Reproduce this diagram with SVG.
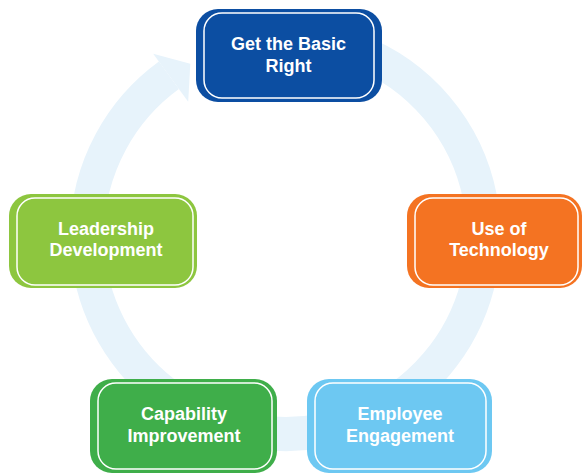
<svg xmlns="http://www.w3.org/2000/svg" width="582" height="473" viewBox="0 0 582 473">
<style>
.ring{fill:none;stroke:#e7f3fb;stroke-width:34;stroke-linecap:butt}
.head{fill:#e7f3fb}
.inner{fill:none;stroke:#ffffff;stroke-width:1.5}
.lbl{font-family:"Liberation Sans",Arial,sans-serif;font-weight:bold;font-size:18px;fill:#ffffff;text-anchor:middle}
</style>
<rect width="582" height="473" fill="#ffffff"/>
<g id="connectors">
<path class="ring" d="M 268.2 38.2 A 198.3 198.3 0 1 1 168.9 75.3"/>
<polygon class="head" points="153.2,53.7 190.3,63.8 188.2,101.8"/>
</g>
<g id="node-basic">
<rect x="196" y="9" width="186" height="93" rx="22" fill="#0c4ea2"/>
<rect class="inner" x="204" y="13" width="170" height="85" rx="18"/>
<text class="lbl" x="288.5" y="50">Get the Basic</text>
<text class="lbl" x="288.5" y="72">Right</text>
</g>
<g id="node-technology">
<rect x="407" y="194" width="175" height="94" rx="22" fill="#f47322"/>
<rect class="inner" x="415" y="198" width="163" height="87" rx="18"/>
<text class="lbl" x="499" y="235">Use of</text>
<text class="lbl" x="499" y="256">Technology</text>
</g>
<g id="node-leadership">
<rect x="9" y="194" width="188" height="94" rx="22" fill="#8dc63f"/>
<rect class="inner" x="17" y="198" width="176" height="87" rx="18"/>
<text class="lbl" x="106" y="235">Leadership</text>
<text class="lbl" x="106" y="256">Development</text>
</g>
<g id="node-capability">
<rect x="90" y="379" width="187" height="94" rx="22" fill="#3fae4a"/>
<rect class="inner" x="98" y="383" width="174" height="86" rx="18"/>
<text class="lbl" x="184" y="420">Capability</text>
<text class="lbl" x="184" y="442">Improvement</text>
</g>
<g id="node-engagement">
<rect x="307" y="379" width="185" height="94" rx="22" fill="#6dc8f2"/>
<rect class="inner" x="315" y="383" width="171" height="86" rx="18"/>
<text class="lbl" x="400" y="420">Employee</text>
<text class="lbl" x="400" y="442">Engagement</text>
</g>
</svg>
